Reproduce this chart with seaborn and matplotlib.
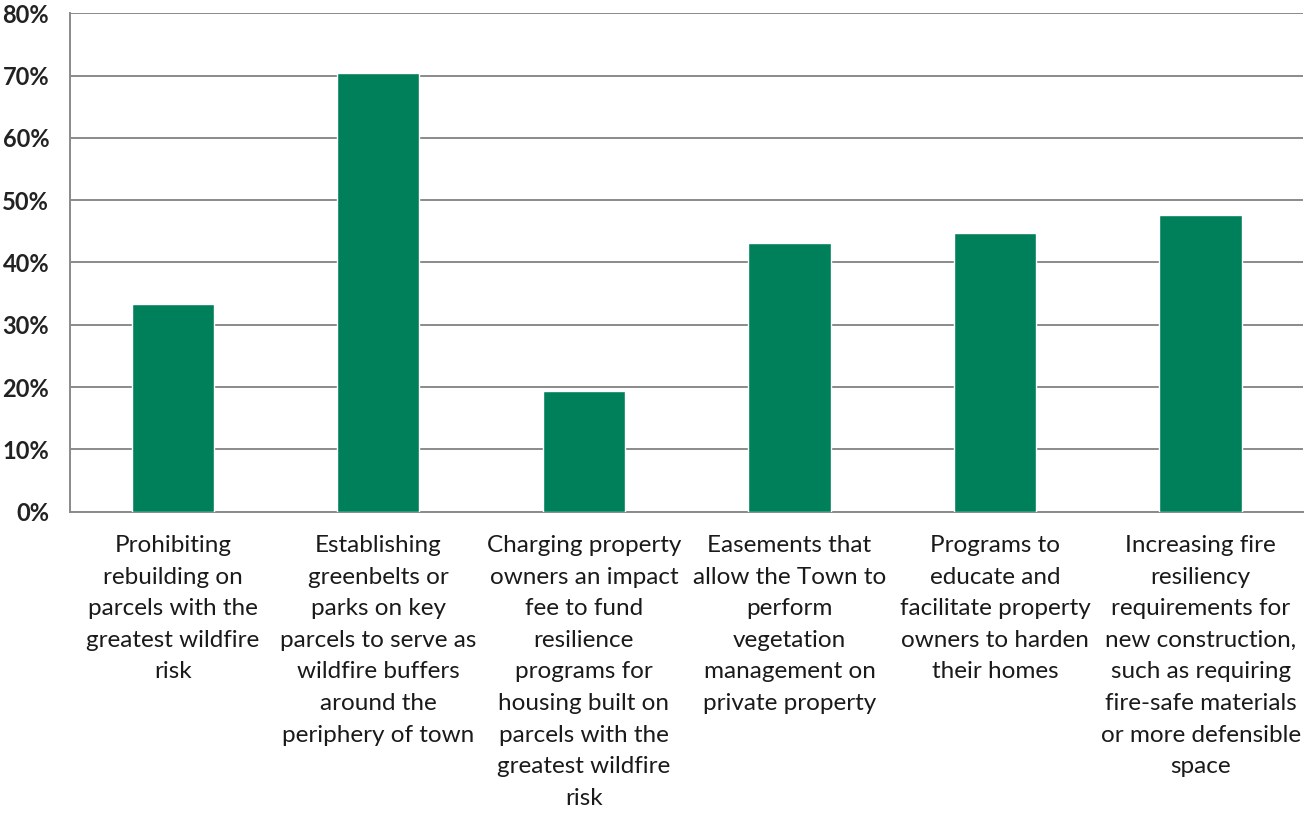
import matplotlib
matplotlib.use("Agg")
import matplotlib.pyplot as plt
import seaborn as sns
import pandas as pd
import numpy as np

categories = [
    "Prohibiting\nrebuilding on\nparcels with the\ngreatest wildfire\nrisk",
    "Establishing\ngreenbelts or\nparks on key\nparcels to serve as\nwildfire buffers\naround the\nperiphery of town",
    "Charging property\nowners an impact\nfee to fund\nresilience\nprograms for\nhousing built on\nparcels with the\ngreatest wildfire\nrisk",
    "Easements that\nallow the Town to\nperform\nvegetation\nmanagement on\nprivate property",
    "Programs to\neducate and\nfacilitate property\nowners to harden\ntheir homes",
    "Increasing fire\nresiliency\nrequirements for\nnew construction,\nsuch as requiring\nfire-safe materials\nor more defensible\nspace",
]
values = [33.3, 70.4, 19.4, 43.1, 44.7, 47.6]
ytick_vals = [0, 10, 20, 30, 40, 50, 60, 70, 80]
ytick_labels = ["0%", "10%", "20%", "30%", "40%", "50%", "60%", "70%", "80%"]

sns.set_theme(style="white")
plt.rcParams['font.family'] = ['Lato', 'DejaVu Sans']

df = pd.DataFrame({"cat": categories, "val": values})

fig = plt.figure(figsize=(13.06, 8.14), dpi=100)
ax = fig.add_axes([0.0536, 0.3714, 0.9444, 0.6123])

sns.barplot(data=df, x="cat", y="val", color="#00805A", width=0.40,
            saturation=1, ax=ax, zorder=3)

ax.set_ylim(0, 80)
ax.set_xlim(-0.5, len(categories) - 0.5)
ax.set_yticks(ytick_vals)
ax.set_yticklabels(ytick_labels, fontsize=17, fontweight="bold", color="#222222")
ax.yaxis.grid(True, color="#8a8a8a", linewidth=1.4, zorder=0)
ax.set_axisbelow(True)

ax.set_xticks(range(len(categories)))
ax.set_xticklabels(categories, fontsize=17.5, color="#1a1a1a", linespacing=1.62,
                   va="top")
ax.tick_params(axis="x", which="major", length=0, pad=17)
ax.set_xticks(np.arange(-0.5, len(categories), 1.0), minor=True)
ax.tick_params(axis="x", which="minor", length=7, color="#8a8a8a", width=1.2,
               direction="out")
ax.tick_params(axis="y", which="major", length=9, color="#8a8a8a", width=1.4,
               direction="out", pad=6)

for s in ["top", "right"]:
    ax.spines[s].set_visible(False)
ax.spines["left"].set_color("#8a8a8a")
ax.spines["left"].set_linewidth(1.4)
ax.spines["bottom"].set_color("#8a8a8a")
ax.spines["bottom"].set_linewidth(1.4)

ax.set_xlabel("")
ax.set_ylabel("")

fig.savefig("out.png", dpi=100)
